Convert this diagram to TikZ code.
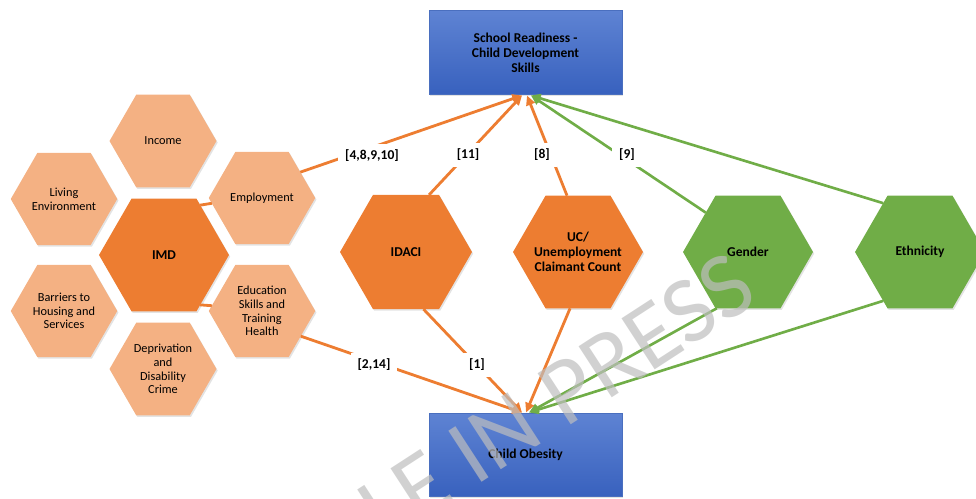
\documentclass[tikz,border=0pt]{standalone}
\usepackage{fontspec}
\setmainfont{Carlito}
\usetikzlibrary{shapes.geometric,arrows.meta,shadows,shadings}
\definecolor{lor}{HTML}{F4B183}
\definecolor{orn}{HTML}{ED7D31}
\definecolor{grn}{HTML}{70AD47}
\definecolor{bltop}{HTML}{5E83D3}
\definecolor{blbot}{HTML}{3861BE}
\definecolor{blbd}{HTML}{4A6FBF}
\definecolor{wm}{HTML}{BEBEBE}
\begin{document}
\begin{tikzpicture}[x=0.02cm,y=-0.02cm,
  hexa/.style={regular polygon, regular polygon sides=6, inner sep=0pt, outer sep=0pt, draw=none,
    drop shadow={shadow xshift=0.7pt, shadow yshift=-0.9pt, opacity=0.22}},
  smallhex/.style={hexa, fill=lor, minimum size=2.13cm},
  bighex/.style={hexa, minimum size=2.6cm},
  lighttext/.style={align=center, font=\fontsize{7}{7.8}\selectfont, inner sep=0pt},
  boldtext/.style={align=center, font=\bfseries\fontsize{7.7}{8.6}\selectfont, inner sep=0pt},
  bluebox/.style={rectangle, draw=blbd, line width=0.4pt, top color=bltop, bottom color=blbot,
    minimum width=3.86cm, minimum height=1.67cm, inner sep=0pt, align=center,
    font=\bfseries\fontsize{7.7}{8.6}\selectfont,
    drop shadow={shadow xshift=0.7pt, shadow yshift=-0.9pt, opacity=0.22}},
  oline/.style={draw=orn, line width=1.6pt, -{Triangle[length=5.5pt,width=5pt]}},
  gline/.style={draw=grn, line width=1.5pt, -{Triangle[length=5.5pt,width=5pt]}},
  plainline/.style={draw=orn, line width=1.6pt},
  reflabel/.style={fill=white, font=\bfseries\fontsize{7.7}{8.6}\selectfont, inner xsep=4pt, inner ysep=3.5pt}
]
\useasboundingbox (0,0) rectangle (976,498);
\clip (0,0) rectangle (976,498);

% boxes
\node[bluebox] (top) at (525.5,52.5) {School Readiness -\\Child Development\\Skills};
\node[bluebox] (bot) at (525.5,455) {Child Obesity};

% IMD cluster
\node[smallhex, minimum size=2.14cm] (inc) at (163,141) {};
\node[smallhex] (liv) at (64,199) {};
\node[smallhex] (emp) at (262,198) {};
\node[bighex, fill=orn] (imd) at (164,255) {};
\node[smallhex] (bar) at (64,311) {};
\node[smallhex] (edu) at (262,311) {};
\node[smallhex, minimum size=2.14cm] (dep) at (163,369) {};

\node[lighttext] (inc-t) at (inc) {Income};
\node[lighttext] (liv-t) at (liv) {Living\\Environment};
\node[lighttext] (emp-t) at (emp) {Employment};
\node[boldtext] (imd-t) at (imd) {IMD};
\node[lighttext] (bar-t) at (bar) {Barriers to\\Housing and\\Services};
\node[lighttext] (edu-t) at (edu) {Education\\Skills and\\Training\\Health};
\node[lighttext] (dep-t) at (dep) {Deprivation\\and\\Disability\\Crime};

% other factors
\node[bighex, fill=orn, minimum size=2.64cm] (idaci) at (406,252) {};
\node[bighex, fill=orn] (uc) at (578,252) {};
\node[bighex, fill=grn] (gen) at (748,252) {};
\node[bighex, fill=grn] (eth) at (920,252) {};

\node[boldtext] (idaci-t) at (idaci) {IDACI};
\node[boldtext] (uc-t) at (uc) {UC/\\Unemployment\\Claimant Count};
\node[boldtext] (gen-t) at (gen) {Gender};
\node[boldtext] (eth-t) at (eth) {Ethnicity};

% arrow end points
\coordinate (t1) at (522,95.5);
\coordinate (t2) at (527,95.5);
\coordinate (t3) at (531,95.5);
\coordinate (b1) at (522,412.5);
\coordinate (b2) at (526,412.5);
\coordinate (b3) at (529,412.5);

% IMD links
\draw[plainline] (imd.54) -- (emp.186);
\draw[plainline] (imd.-54) -- (edu.174);

% to school readiness
\draw[oline] (emp.34) -- (t1);
\draw[oline] (idaci.68) -- (t1);
\draw[oline] (uc.101) -- (t2);
\draw[gline] (gen.137) -- (t3);
\draw[gline] (eth.127) -- (t3);

% to child obesity
\draw[oline] (edu.-33) -- (b1);
\draw[oline] (idaci.-73) -- (b1);
\draw[oline] (uc.-98) -- (b2);
\draw[gline] (gen.-119) -- (b3);
\draw[gline] (eth.-127) -- (b3);

% reference labels
\node[reflabel] (l1) at (372,156) {[4,8,9,10]};
\node[reflabel] (l2) at (468,155) {[11]};
\node[reflabel] (l3) at (542,155) {[8]};
\node[reflabel] (l4) at (627,155) {[9]};
\node[reflabel] (l5) at (374,365) {[2,14]};
\node[reflabel] (l6) at (477,365) {[1]};

% watermark
\node[rotate=33, anchor=base east, text=wm, opacity=0.7, inner sep=0pt,
  font=\fontsize{54}{54}\selectfont] (wmk) at (761,301) {ARTICLE IN PRESS};
\end{tikzpicture}
\end{document}
